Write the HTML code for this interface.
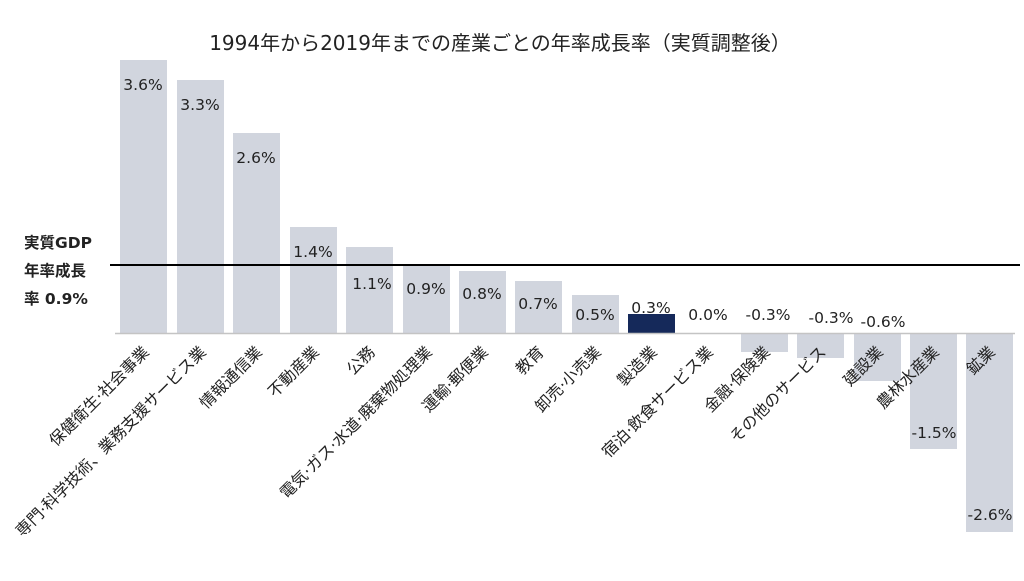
<!DOCTYPE html>
<html><head><meta charset="utf-8"><style>
body{margin:0;background:#fff}
text{font-family:"DejaVu Sans","Noto Sans CJK JP",sans-serif;fill:#222}
</style></head><body>
<svg width="1024" height="576" viewBox="0 0 1024 576" xmlns="http://www.w3.org/2000/svg">
<text x="500" y="50" font-size="20" text-anchor="middle">1994年から2019年までの産業ごとの年率成長率（実質調整後）</text>
<g fill="#d1d5de">
<rect x="120" y="60" width="47" height="273"/>
<rect x="177" y="80" width="47" height="253"/>
<rect x="233" y="133" width="47" height="200"/>
<rect x="290" y="227" width="47" height="106"/>
<rect x="346" y="247" width="47" height="86"/>
<rect x="403" y="266" width="47" height="67"/>
<rect x="459" y="271" width="47" height="62"/>
<rect x="515" y="281" width="47" height="52"/>
<rect x="572" y="295" width="47" height="38"/>
<rect x="741" y="333" width="47" height="19"/>
<rect x="797" y="333" width="47" height="25"/>
<rect x="854" y="333" width="47" height="48"/>
<rect x="910" y="333" width="47" height="116"/>
<rect x="966" y="333" width="47" height="199"/>
</g>
<rect x="628" y="314" width="47" height="19" fill="#15295a"/>
<line x1="115" y1="333.5" x2="1015" y2="333.5" stroke="#c4c4c4" stroke-width="1.5"/>
<line x1="110" y1="265" x2="1020" y2="265" stroke="#000" stroke-width="2"/>
<g font-size="15.5" text-anchor="middle">
<text x="143" y="90">3.6%</text>
<text x="200" y="110">3.3%</text>
<text x="256" y="163">2.6%</text>
<text x="313" y="257">1.4%</text>
<text x="372" y="289">1.1%</text>
<text x="426" y="294">0.9%</text>
<text x="482" y="299">0.8%</text>
<text x="538" y="309">0.7%</text>
<text x="595" y="320">0.5%</text>
<text x="651" y="313">0.3%</text>
<text x="708" y="320">0.0%</text>
<text x="768" y="320">-0.3%</text>
<text x="831" y="323">-0.3%</text>
<text x="883" y="327">-0.6%</text>
<text x="934" y="438">-1.5%</text>
<text x="990" y="520">-2.6%</text>
</g>
<g font-size="15.5" font-weight="bold">
<text x="24" y="248">実質GDP</text>
<text x="24" y="276">年率成長</text>
<text x="24" y="304">率 0.9%</text>
</g>
<g font-size="16" text-anchor="end">
<text transform="translate(150,353) rotate(-45)">保健衛生·社会事業</text>
<text transform="translate(207,353) rotate(-45)">専門·科学技術、業務支援サービス業</text>
<text transform="translate(263,353) rotate(-45)">情報通信業</text>
<text transform="translate(320,353) rotate(-45)">不動産業</text>
<text transform="translate(376,353) rotate(-45)">公務</text>
<text transform="translate(433,353) rotate(-45)">電気·ガス·水道·廃棄物処理業</text>
<text transform="translate(489,353) rotate(-45)">運輸·郵便業</text>
<text transform="translate(545,353) rotate(-45)">教育</text>
<text transform="translate(602,353) rotate(-45)">卸売·小売業</text>
<text transform="translate(658,353) rotate(-45)">製造業</text>
<text transform="translate(714,353) rotate(-45)">宿泊·飲食サービス業</text>
<text transform="translate(771,353) rotate(-45)">金融·保険業</text>
<text transform="translate(827,353) rotate(-45)">その他のサービス</text>
<text transform="translate(884,353) rotate(-45)">建設業</text>
<text transform="translate(940,353) rotate(-45)">農林水産業</text>
<text transform="translate(996,353) rotate(-45)">鉱業</text>
</g>
</svg>
</body></html>
